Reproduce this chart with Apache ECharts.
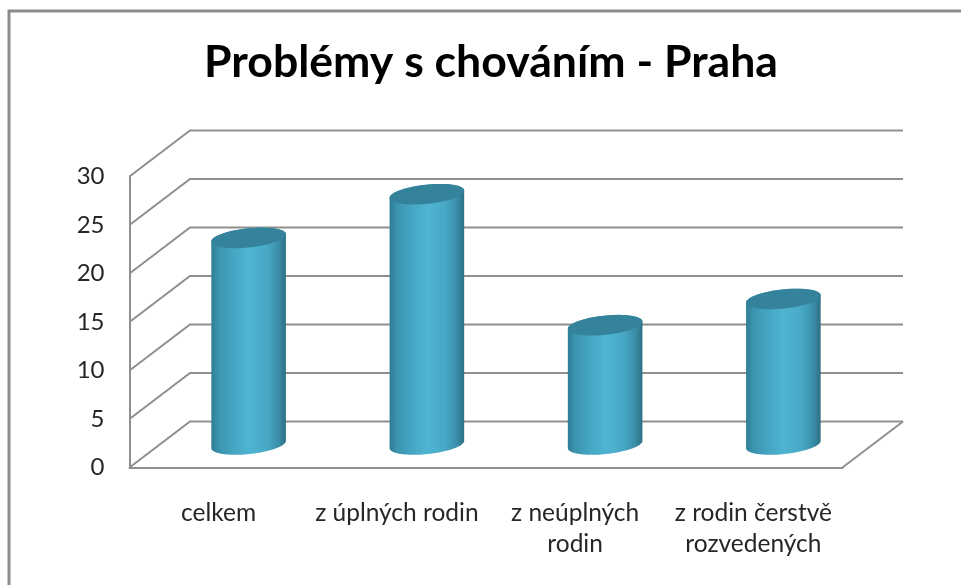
<!DOCTYPE html>
<html>
<head>
<meta charset="utf-8">
<style>html,body{margin:0;padding:0;background:#fff}#c{width:961px;height:585px}</style>
<script src="https://cdn.jsdelivr.net/npm/echarts@6/dist/echarts.min.js"></script>
</head>
<body>
<div id="c"></div>
<script>
const titleText = 'Problémy s chováním - Praha';
const categories = ['celkem', 'z úplných rodin', 'z neúplných\nrodin', 'z rodin čerstvě\nrozvedených'];
const values = [21.3, 25.8, 12.3, 15];
const ticks = [0, 5, 10, 15, 20, 25, 30];

const FONT = 'Lato';
const GRID = '#8f8f8f';
const DEPTH_X = 60.5, DEPTH_Y = 46;   // back wall offset of the 3D box
const MID_X = 30, MID_Y = 23;         // cylinders stand mid-depth
const RX = 37.5, RY = 9.6, TILT = -6 * Math.PI / 180;

function ell(cx, cy, t) {
  const x = RX * Math.cos(t), y = RY * Math.sin(t);
  return [cx + x * Math.cos(TILT) - y * Math.sin(TILT),
          cy + x * Math.sin(TILT) + y * Math.cos(TILT)];
}
function arc(cx, cy, from, to) {
  const out = [];
  for (let i = 0; i <= 48; i++) out.push(ell(cx, cy, from + (to - from) * i / 48));
  return out;
}
function renderWall(params, api) {
  const v = api.value(0);
  const p = api.coord([0, v]);
  const band = api.size([1, 0])[0];
  const x0 = p[0] - band / 2, y = p[1];
  const x1 = x0 + band * categories.length;
  const style = { stroke: GRID, lineWidth: 2, fill: null };
  const children = [{
    type: 'polyline',
    shape: { points: [[x0, y], [x0 + DEPTH_X, y - DEPTH_Y], [x1 + DEPTH_X, y - DEPTH_Y]] },
    style
  }];
  if (v === 0) {
    children.push({
      type: 'line',
      shape: { x1: x1, y1: y, x2: x1 + DEPTH_X, y2: y - DEPTH_Y },
      style
    });
  }
  return { type: 'group', children };
}
function renderCylinder(params, api) {
  const top = api.coord([api.value(0), api.value(1)]);
  const base = api.coord([api.value(0), 0]);
  const cx = top[0] + MID_X, ty = top[1] - MID_Y, by = base[1] - MID_Y;
  const body = arc(cx, by, 0, Math.PI).concat(arc(cx, ty, Math.PI, 2 * Math.PI));
  return {
    type: 'group',
    children: [{
      type: 'polygon',
      shape: { points: body },
      style: {
        fill: {
          type: 'linear', x: 0, y: 0, x2: 1, y2: 0,
          colorStops: [
            { offset: 0, color: '#2e7d96' },
            { offset: 0.1, color: '#3c94ae' },
            { offset: 0.3, color: '#45a6c3' },
            { offset: 0.5, color: '#4fb5d2' },
            { offset: 0.75, color: '#48a8c5' },
            { offset: 0.9, color: '#3a8ea8' },
            { offset: 1, color: '#2e7085' }
          ]
        }
      }
    }, {
      type: 'polygon',
      shape: { points: arc(cx, ty, 0, 2 * Math.PI) },
      style: { fill: '#35829b' }
    }]
  };
}

const chart = echarts.init(document.getElementById('c'), null, { renderer: 'canvas' });
chart.setOption({
  animation: false,
  backgroundColor: '#ffffff',
  title: {
    text: titleText, left: 486, top: 35, textAlign: 'center',
    textStyle: { fontFamily: FONT, fontSize: 44.6, fontWeight: 'bold', color: '#000' }
  },
  grid: { left: 129.5, right: 118.5, top: 176.5, bottom: 117.5, outerBoundsMode: 'none' },
  xAxis: {
    type: 'category', data: categories,
    axisLine: { lineStyle: { color: GRID, width: 2 } },
    axisTick: { show: false },
    axisLabel: {
      interval: 0, margin: 30, lineHeight: 31,
      fontFamily: FONT, fontSize: 24.5, color: '#262626'
    }
  },
  yAxis: {
    type: 'value', min: 0, max: 30, interval: 5,
    splitLine: { show: false },
    axisLine: { show: true, lineStyle: { color: GRID, width: 2 } },
    axisTick: { show: false },
    axisLabel: { margin: 25, padding: [4, 0, 0, 0], fontFamily: FONT, fontSize: 24, color: '#262626' }
  },
  series: [{
    type: 'custom', clip: false, z: 1, silent: true,
    renderItem: renderWall,
    data: ticks.map(t => [t]),
    encode: { y: 0 }
  }, {
    type: 'custom', clip: false, z: 2,
    renderItem: renderCylinder,
    data: values.map((v, i) => [i, v]),
    encode: { x: 0, y: 1 }
  }],
  graphic: [{
    type: 'polyline', silent: true,
    shape: { points: [[9, 590], [9, 11], [966, 11]] },
    style: { stroke: '#8c8c8c', lineWidth: 3, fill: null }
  }]
});
</script>
</body>
</html>
